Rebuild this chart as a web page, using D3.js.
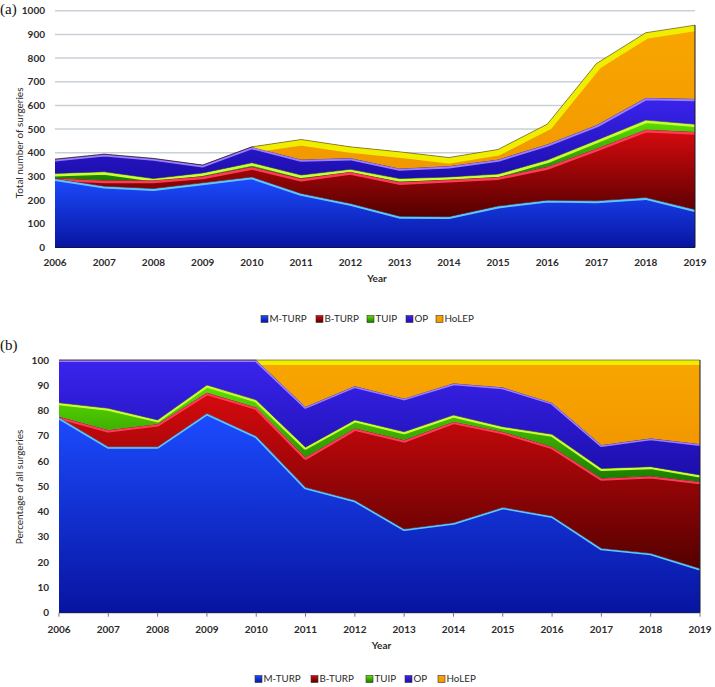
<!DOCTYPE html>
<html><head><meta charset="utf-8">
<script src="https://cdn.jsdelivr.net/npm/d3@7"></script>
<style>body{margin:0;background:#fff} svg{display:block}</style>
</head><body>
<svg id="c" width="715" height="687"></svg>
<script>
// ---------- data ----------
const years = [2006,2007,2008,2009,2010,2011,2012,2013,2014,2015,2016,2017,2018,2019];
const seriesNames = ["M-TURP","B-TURP","TUIP","OP","HoLEP"];
// (a) total number of surgeries
const countMTURP = [291,259,249,273,298,228,186,132,130,175,200,197,211,160];
const countBTURP = [2,25,35,28,43,63,134,145,157,123,141,221,287,329];
const countTUIP  = [20,36,7,14,17,15,10,14,11,12,28,35,40,32];
const countOP    = [60,74,85,33,67,66,48,43,46,62,67,64,94,107];
const countHoLEP = [0,0,0,0,0,84,47,70,36,42,85,260,275,311];
// (b) percentage of all surgeries
const pctMTURP = [77.3,65.7,65.7,78.9,69.9,49.6,44.5,33.1,35.6,41.7,38.3,25.5,23.5,17.5];
const pctBTURP = [0.3,6.6,9.0,8.2,11.4,11.9,28.5,35.2,40.0,29.9,27.4,27.7,30.6,34.3];
const pctTUIP  = [5.5,8.6,1.6,3.0,2.9,4.0,3.3,3.3,2.6,2.0,4.9,3.9,3.7,2.7];
const pctOP    = [16.9,19.1,23.7,9.9,15.8,16.0,13.4,13.2,12.6,15.6,12.5,9.3,11.2,12.3];
const pctHoLEP = [0,0,0,0,0,18.5,10.3,15.2,9.2,10.8,16.9,33.6,31.0,33.2];
const yTicksCount = [0,100,200,300,400,500,600,700,800,900,1000];
const yTicksPct = [0,10,20,30,40,50,60,70,80,90,100];

// ---------- styles ----------
const styles = {
  "M-TURP": {top:"#1c4cff", bot:"#0814a0", hi:"#60c4ff", hw:2},
  "B-TURP": {top:"#d80a0e", bot:"#540000", hi:"#ff3a58", hw:2.5},
  "TUIP":   {top:"#5ee000", bot:"#1a7a00", hi:"#c8ff34", hw:2.5},
  "OP":     {top:"#3a24ee", bot:"#1c0eac", hi:"#9c7cff", hw:2},
  "HoLEP":  {top:"#f8a600", bot:"#f29800", hi:"#f0ee00", hw:5}
};

const svg = d3.select("#c");
const defs = svg.append("defs");
seriesNames.forEach((k,i)=>{
  const g = defs.append("linearGradient").attr("id","g"+i).attr("x1",0).attr("y1",0).attr("x2",0).attr("y2",1);
  g.append("stop").attr("offset","0%").attr("stop-color",styles[k].top);
  g.append("stop").attr("offset","100%").attr("stop-color",styles[k].bot);
});

const fontT = "Lato, 'Open Sans', sans-serif";

function drawChart(opts){
  const {id, data, yMax, yTicks, x0, x1, yBot, yTop, labelX, xLabY, grid, yTitle, yTitleY, yearY, legY, legXs, tag, tagY, hiScale} = opts;
  const rows = years.map((yr,i)=>{
    const r = {year:yr};
    seriesNames.forEach((k,j)=> r[k] = data[j][i]);
    return r;
  });
  const x = d3.scaleLinear().domain([years[0], years[years.length-1]]).range([x0,x1]);
  const y = d3.scaleLinear().domain([0,yMax]).range([yBot,yTop]);
  const g = svg.append("g");

  if (grid){
    g.append("g").selectAll("line").data(yTicks.filter(d=>d>0)).join("line")
      .attr("x1",x0).attr("x2",x1).attr("y1",d=>y(d)).attr("y2",d=>y(d))
      .attr("stroke","#c9d0d8").attr("stroke-width",1.5);
  }
  const stack = d3.stack().keys(seriesNames);
  const layers = stack(rows);
  const area = d3.area().x(d=>x(d.data.year)).y0(d=>y(d[0])).y1(d=>y(d[1]));
  const topLine = d3.line().x(d=>x(d.data.year)).y(d=>y(d[1]));
  layers.forEach((L,i)=>{
    const k = L.key;
    const cid = id+"clip"+i;
    defs.append("clipPath").attr("id",cid).append("path").attr("d",area(L));
    g.append("path").attr("d",area(L)).attr("fill","url(#g"+i+")");
    g.append("path").attr("d",topLine(L)).attr("fill","none")
      .attr("stroke",styles[k].hi).attr("stroke-width",styles[k].hw*2*hiScale)
      .attr("stroke-linejoin","round").attr("clip-path","url(#"+cid+")");
    g.append("path").attr("d",topLine(L)).attr("fill","none")
      .attr("stroke","#2a1a10").attr("stroke-opacity",0.55).attr("stroke-width",0.9);
  });
  g.append("line").attr("x1",x1).attr("x2",x1).attr("y1",y(d3.sum(seriesNames,k=>rows[rows.length-1][k]))).attr("y2",yBot)
    .attr("stroke","#1a1a2a").attr("stroke-width",1);
  g.append("line").attr("x1",x0).attr("x2",x1).attr("y1",yBot).attr("y2",yBot).attr("stroke","#0a1450").attr("stroke-width",1);

  g.append("g").selectAll("text").data(yTicks).join("text")
    .attr("x",labelX).attr("y",d=>y(d)).attr("dy","0.35em").attr("text-anchor","end")
    .attr("font-family",fontT).attr("font-weight",700).attr("font-size","10px").attr("fill","#2b2b2b")
    .text(d=>d);
  if (opts.xTicks){
    g.append("g").selectAll("line").data(years).join("line")
      .attr("x1",d=>x(d)).attr("x2",d=>x(d)).attr("y1",yBot).attr("y2",yBot+4).attr("stroke","#777");
  }
  g.append("g").selectAll("text").data(years).join("text")
    .attr("x",d=>x(d)).attr("y",xLabY).attr("dy","0.35em").attr("text-anchor","middle")
    .attr("font-family",fontT).attr("font-weight",700).attr("font-size","10px").attr("fill","#2b2b2b")
    .text(d=>d);
  g.append("text").attr("transform",`translate(23,${yTitleY}) rotate(-90)`).attr("text-anchor","middle")
    .attr("font-family",fontT).attr("font-size","10px").attr("fill","#2b2b2b").text(yTitle);
  g.append("text").attr("x",(x0+x1)/2+2).attr("y",yearY).attr("dy","0.35em").attr("text-anchor","middle")
    .attr("font-family",fontT).attr("font-weight",700).attr("font-size","10px").attr("fill","#2b2b2b").text("Year");
  g.append("text").attr("x",0).attr("y",tagY).attr("font-family","'Liberation Serif', 'DejaVu Serif', serif")
    .attr("font-size","15px").attr("fill","#111").text(tag);
  const leg = g.append("g");
  seriesNames.forEach((k,i)=>{
    const lx = legXs[i];
    leg.append("rect").attr("x",lx).attr("y",legY-3.5).attr("width",7).attr("height",7)
      .attr("fill","url(#g"+i+")").attr("stroke","#333").attr("stroke-width",0.6);
    leg.append("text").attr("x",lx+8.5).attr("y",legY).attr("dy","0.35em")
      .attr("font-family",fontT).attr("font-size","9.8px").attr("fill","#2b2b2b").text(k);
  });
}

drawChart({id:"a", data:[countMTURP,countBTURP,countTUIP,countOP,countHoLEP], yMax:1000, yTicks:yTicksCount,
  x0:55, x1:695, yBot:247.5, yTop:10.7, labelX:45, xLabY:262, grid:true,
  yTitle:"Total number of surgeries", yTitleY:143, yearY:278, legY:319, legXs:[261,316,367,406,436], tag:"(a)", tagY:14, hiScale:1.2});
drawChart({id:"b", data:[pctMTURP,pctBTURP,pctTUIP,pctOP,pctHoLEP], yMax:100, yTicks:yTicksPct,
  x0:59, x1:700, yBot:612.7, yTop:360, labelX:49, xLabY:629, grid:false, xTicks:true,
  yTitle:"Percentage of all surgeries", yTitleY:487, yearY:645, legY:679, legXs:[255,311,366,405,438], tag:"(b)", tagY:350, hiScale:1});
</script>
</body></html>
